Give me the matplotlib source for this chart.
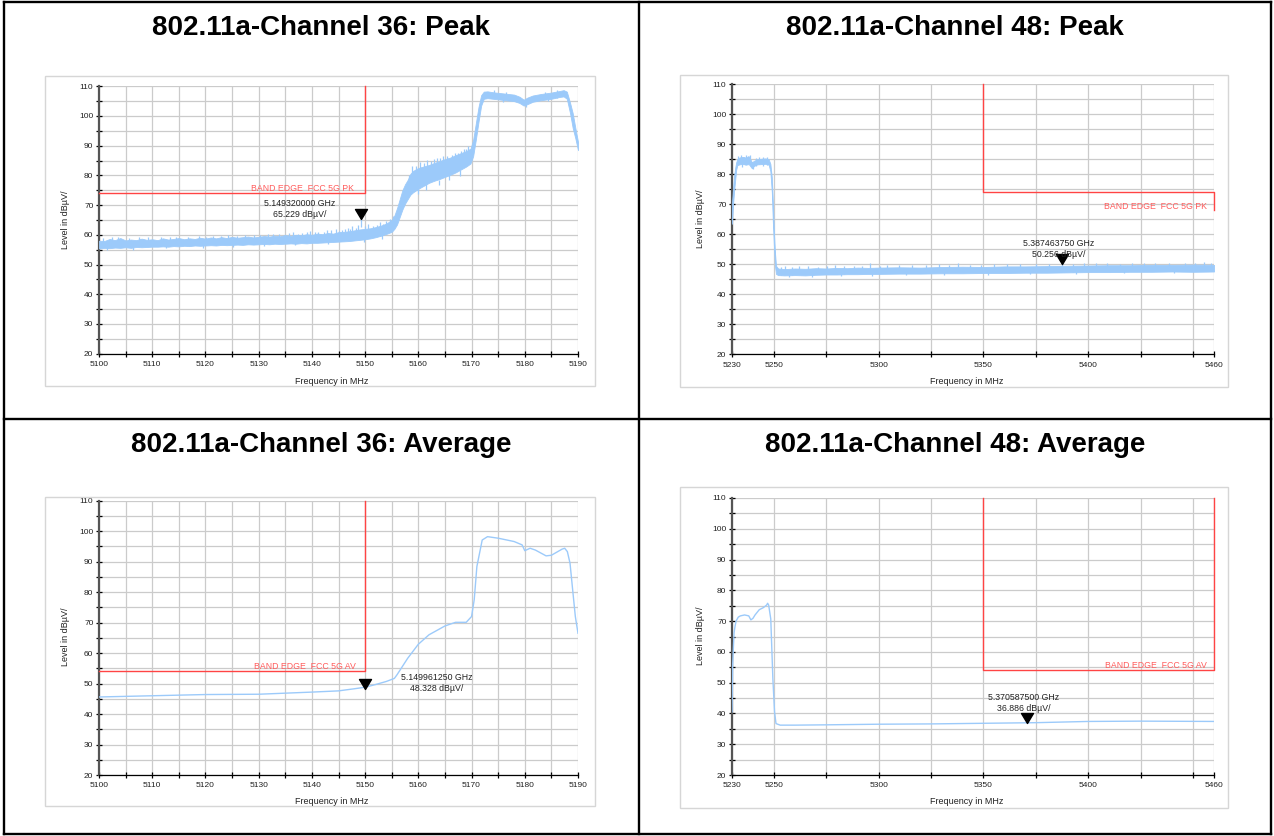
import matplotlib
matplotlib.use("Agg")
import matplotlib.pyplot as plt
from matplotlib.patches import Rectangle
from matplotlib.lines import Line2D
from matplotlib.path import Path

plt.rcParams['font.family'] = ['Liberation Sans', 'DejaVu Sans']

# ---------------- data ----------------
titles = ["802.11a-Channel 36: Peak", "802.11a-Channel 48: Peak",
          "802.11a-Channel 36: Average", "802.11a-Channel 48: Average"]

# Channel 36 Peak: envelope of the noisy trace (MHz, lower dBuV, upper dBuV)
ch36_pk_f = [5100, 5101, 5102, 5103, 5104, 5105, 5106, 5107, 5108, 5109, 5110, 5111, 5112, 5113,
             5114, 5115, 5116, 5117, 5118, 5119, 5120, 5121, 5122, 5123, 5124, 5125, 5126, 5127,
             5128, 5129, 5130, 5131, 5132, 5133, 5134, 5135, 5136, 5137, 5138, 5139, 5140, 5141,
             5142, 5143, 5144, 5145, 5146, 5147, 5148, 5149, 5150, 5151, 5152, 5153, 5154, 5155,
             5155.5, 5156, 5156.5, 5157, 5157.5, 5158, 5158.5, 5159, 5160, 5161, 5162, 5163, 5164,
             5165, 5166, 5167, 5168, 5169, 5169.8, 5170.3, 5170.8, 5171.3, 5171.8, 5172.3, 5173,
             5174, 5175, 5176, 5177, 5178, 5179, 5179.8, 5180.5, 5181.5, 5183, 5185, 5186.5, 5187.3,
             5187.9, 5188.5, 5189, 5189.5, 5190]
ch36_pk_lo = [55.4, 55.6, 55.5, 55.7, 55.6, 55.8, 55.6, 55.9, 55.8, 55.9, 56.0, 56.0, 56.1, 56.0,
              56.2, 56.1, 56.3, 56.2, 56.4, 56.3, 56.4, 56.5, 56.4, 56.6, 56.5, 56.6, 56.7, 56.6,
              56.8, 56.7, 56.8, 56.9, 56.8, 57.0, 56.9, 57.0, 57.1, 57.0, 57.2, 57.1, 57.3, 57.3,
              57.4, 57.5, 57.6, 57.7, 57.8, 57.9, 58.1, 58.3, 58.5, 58.8, 59.2, 59.7, 60.3, 61.0,
              62.0, 63.5, 66.0, 68.5, 70.5, 72.0, 73.5, 74.3, 75.5, 76.5, 77.5, 78.2, 78.8,
              79.5, 80.2, 81.0, 82.0, 83.0, 84.0, 86.5, 92.0, 98.0, 103.5, 105.8, 106.0,
              105.8, 105.6, 105.4, 105.2, 105.0, 104.4, 103.5, 104.0, 104.8, 105.3, 105.8, 106.4, 106.6,
              105.8, 101.0, 96.0, 92.5, 88.5]
ch36_pk_hi = [58.0, 57.9, 58.6, 58.2, 58.9, 58.1, 58.4, 58.2, 58.7, 58.3, 58.5, 58.2, 58.8, 58.4,
              58.6, 58.9, 58.5, 58.8, 58.6, 59.0, 58.7, 59.1, 58.8, 59.2, 58.9, 59.3, 59.0, 59.2,
              59.4, 59.1, 59.3, 59.6, 59.4, 59.7, 59.5, 59.9, 59.6, 60.0, 59.8, 60.2, 60.0, 60.4,
              60.2, 60.6, 60.4, 60.9, 61.0, 61.2, 61.5, 61.8, 62.0, 62.2, 62.6, 63.1, 63.8, 65.0,
              66.5, 69.0, 72.0, 75.0, 77.0, 78.5, 80.5, 81.5, 82.5, 83.0, 83.5, 84.2, 84.8,
              85.5, 86.0, 86.8, 87.5, 88.2, 89.0, 92.0, 97.5, 103.0, 107.0, 108.2, 108.3,
              108.0, 107.8, 107.6, 107.4, 107.2, 106.5, 105.5, 106.2, 106.9, 107.4, 107.9, 108.4, 108.7,
              108.2, 104.5, 101.0, 96.0, 91.3]
# upward noise spikes (MHz, top dBuV)
ch36_pk_spike_f = [5100.8, 5102.4, 5103.5, 5105.6, 5107.5, 5109.2, 5111.6, 5113.3, 5114.5, 5116.7,
                   5118.8, 5120.1, 5121.4, 5122.9, 5124.3, 5126.0, 5127.5, 5129.1, 5130.2, 5131.7,
                   5132.6, 5133.9, 5134.8, 5135.7, 5136.5, 5137.4, 5138.1, 5139.0, 5139.6, 5140.5,
                   5141.1, 5142.2, 5142.9, 5143.6, 5144.5, 5145.1, 5145.6, 5146.2, 5146.7, 5147.2,
                   5147.6, 5148.2, 5148.7, 5149.3, 5150.0, 5150.6, 5151.5, 5152.3, 5152.8, 5153.4,
                   5153.9, 5154.6, 5155.3, 5157.8, 5158.3, 5158.8, 5159.5, 5160.4, 5161.1, 5161.7,
                   5162.4, 5163.0, 5163.5, 5164.1, 5164.6, 5165.4, 5166.3, 5166.9, 5167.4, 5168.0,
                   5168.6, 5169.0, 5169.4, 5174.2, 5176.5, 5183.8, 5186.0]
ch36_pk_spike_v = [58.9, 59.2, 59.3, 59.0, 59.1, 59.2, 59.2, 59.3, 59.4, 59.3,
                   59.6, 59.4, 59.5, 59.7, 59.8, 59.6, 60.0, 59.9, 59.9, 60.2,
                   60.3, 60.4, 60.1, 60.5, 60.8, 60.4, 60.5, 60.9, 61.2, 60.8,
                   60.9, 61.0, 61.7, 61.5, 61.8, 61.2, 61.6, 62.0, 62.3, 62.1,
                   62.8, 62.4, 63.4, 65.2, 62.9, 63.6, 63.0, 63.4, 64.2, 63.8,
                   64.6, 65.2, 66.4, 77.2, 80.0, 83.0, 83.2, 84.5, 84.2, 85.2,
                   85.0, 85.6, 85.8, 85.9, 86.6, 86.4, 87.0, 87.4, 87.6, 88.2,
                   88.8, 88.9, 89.8, 108.6, 108.2, 108.1, 108.6]
# downward noise dips (MHz, bottom dBuV)
ch36_pk_dip_f = [5101.5, 5106.4, 5112.6, 5119.5, 5125.2, 5131.0, 5136.9, 5143.1, 5149.7, 5153.2,
                 5159.9, 5161.5, 5163.8, 5165.7, 5167.8, 5176.0, 5180.2, 5184.4]
ch36_pk_dip_v = [54.8, 55.0, 55.4, 55.7, 55.9, 56.2, 56.5, 56.9, 57.6, 58.6,
                 73.8, 75.0, 76.6, 78.4, 79.9, 104.6, 103.0, 105.0]
ch36_pk_marker = (5149.320, 65.229)

# Channel 48 Peak
ch48_pk_f = [5230, 5230.5, 5231, 5231.5, 5232, 5232.5, 5233.5, 5235, 5236.5, 5238, 5239.5, 5240.5,
             5242, 5244, 5246, 5247.5, 5248.3, 5249, 5249.5, 5250, 5250.5, 5251, 5252, 5255, 5260,
             5265, 5270, 5275, 5280, 5285, 5290, 5295, 5300, 5310, 5320, 5330, 5340, 5350, 5360,
             5370, 5380, 5390, 5400, 5410, 5420, 5430, 5440, 5450, 5460]
ch48_pk_lo = [63.5, 70.0, 74.5, 78.0, 81.5, 83.0, 83.3, 83.5, 83.2, 83.4, 82.0, 82.8,
              83.3, 83.4, 83.5, 83.2, 81.0, 74.0, 64.0, 56.0, 49.5, 46.8, 46.4, 46.3, 46.4,
              46.3, 46.5, 46.6, 46.6, 46.7, 46.7, 46.8, 46.8, 46.9, 46.9, 47.0, 47.0, 47.1, 47.1,
              47.2, 47.2, 47.3, 47.4, 47.4, 47.5, 47.5, 47.6, 47.5, 47.6]
ch48_pk_hi = [70.5, 75.5, 79.5, 82.0, 84.0, 85.0, 85.6, 85.8, 85.6, 86.0, 84.0, 84.5,
              85.0, 85.2, 85.3, 85.0, 83.5, 79.0, 71.0, 61.0, 54.0, 49.5, 48.6, 48.4, 48.6,
              48.5, 48.7, 48.6, 48.8, 48.7, 48.9, 48.8, 48.9, 49.0, 48.9, 49.1, 49.2, 49.1, 49.3,
              49.3, 49.4, 49.5, 49.6, 49.7, 49.7, 49.8, 49.8, 49.9, 49.8]
ch48_pk_spike_f = [5233.1, 5234.2, 5235.6, 5236.8, 5237.7, 5238.6, 5241.3, 5243.0, 5245.0, 5246.8,
                   5253.2, 5255.5, 5258.4, 5262, 5266.5, 5271, 5275.3, 5279, 5283.6, 5288, 5292.2,
                   5296, 5300.4, 5304, 5309.8, 5316, 5322.5, 5329, 5333.4, 5338, 5343.7, 5349, 5355.1,
                   5361, 5367.6, 5375, 5381.2, 5387.5, 5392.8, 5398, 5403.5, 5409, 5415.2, 5421,
                   5426.7, 5432, 5438.3, 5446, 5450.8, 5455, 5458.6]
ch48_pk_spike_v = [86.0, 86.3, 85.9, 86.4, 86.1, 86.5, 85.4, 85.8, 85.9, 85.7,
                   49.1, 49.3, 49.0, 49.5, 49.3, 49.2, 49.4, 49.8, 49.4, 49.6, 49.5,
                   50.3, 49.6, 49.7, 49.8, 49.9, 49.7, 50.0, 49.9, 50.3, 49.8, 49.9, 50.0,
                   50.2, 50.0, 50.1, 50.2, 50.3, 50.1, 50.6, 50.3, 50.4, 50.2, 50.5,
                   50.3, 50.6, 50.4, 50.5, 50.3, 50.7, 50.4]
ch48_pk_dip_f = [5234.8, 5239.8, 5244.6, 5257, 5268, 5282, 5297, 5313, 5331, 5352, 5372, 5394,
                 5417, 5441]
ch48_pk_dip_v = [82.4, 81.6, 82.6, 45.9, 45.9, 46.1, 46.2, 46.4, 46.5, 46.6, 46.7, 46.9,
                 47.0, 47.1]
ch48_pk_marker = (5387.46375, 50.256)

# Channel 36 Average
ch36_av_f = [5100, 5110, 5120, 5130, 5140, 5145, 5148, 5150, 5152, 5154, 5155.5, 5156, 5157, 5158,
             5160, 5162, 5165, 5167, 5169, 5170, 5170.5, 5171, 5172, 5173, 5175, 5178, 5179.5,
             5180, 5181, 5182, 5184, 5185, 5187, 5187.5, 5188, 5188.5, 5189, 5189.5, 5190]
ch36_av_v = [45.6, 46.0, 46.4, 46.5, 47.2, 47.6, 48.3, 48.8, 49.7, 50.7, 51.7, 52.9, 55.6, 58.3,
             62.9, 66.0, 68.9, 70.1, 70.1, 72.0, 77.5, 88.4, 97.1, 98.2, 97.7, 96.6, 95.5,
             93.6, 94.4, 93.8, 91.9, 92.1, 94.1, 94.4, 93.3, 89.5, 80.7, 72.0, 66.5]
ch36_av_marker = (5149.96125, 48.328)

# Channel 48 Average
ch48_av_f = [5230, 5230.3, 5230.7, 5231, 5231.5, 5232, 5233, 5234, 5236, 5238, 5239, 5240, 5241,
             5243, 5245, 5246.5, 5247, 5247.5, 5248.5, 5249.5, 5250.3, 5251, 5253, 5260, 5275,
             5300, 5325, 5350, 5375, 5400, 5425, 5460]
ch48_av_v = [40.5, 55.6, 62.0, 66.3, 68.5, 70.1, 71.3, 71.7, 72.0, 71.7, 70.4, 70.9, 72.0,
             73.7, 74.4, 75.2, 75.8, 75.2, 70.7, 51.3, 40.5, 36.7, 36.2, 36.2, 36.3,
             36.5, 36.6, 36.8, 37.0, 37.4, 37.5, 37.4]
ch48_av_marker = (5370.5875, 36.886)

marker_texts = ["5.149320000 GHz\n65.229 dBµV/", "5.387463750 GHz\n50.256 dBµV/",
                "5.149961250 GHz\n48.328 dBµV/", "5.370587500 GHz\n36.886 dBµV/"]

# limit lines (freq, level)
lim_ch36_pk = ([5100, 5150, 5150], [74, 74, 110])
lim_ch48_pk = ([5350, 5350, 5460, 5460], [110, 74, 74, 68.2])
lim_ch36_av = ([5100, 5150, 5150], [54, 54, 110])
lim_ch48_av = ([5350, 5350, 5460, 5460], [110, 54, 54, 110])
lim_labels = ["BAND EDGE  FCC 5G PK", "BAND EDGE  FCC 5G PK",
              "BAND EDGE  FCC 5G AV", "BAND EDGE  FCC 5G AV"]

ch36_xticks = list(range(5100, 5191, 10))
ch36_xminor = list(range(5105, 5190, 10))
ch48_xticks = [5230, 5250, 5300, 5350, 5400, 5460]
ch48_xminor = [5275, 5325, 5375, 5425, 5450]
yticks = list(range(20, 111, 10))
yminor = list(range(25, 110, 10))

# ---------------- figure ----------------
W, H = 1274, 836
fig = plt.figure(figsize=(W / 100, H / 100), dpi=100)
fig.patch.set_facecolor('white')

def fx(px):
    return px / W

def fy(py):
    return 1 - py / H

TRACE = '#9ccafa'
RED = '#ff4444'
RED_TXT = '#ff5c5c'
GRID = '#cbcbcb'

# table lines
for (x0, y0, x1, y1) in [(4, 2, 1271, 2), (4, 834, 1271, 834), (4, 2, 4, 834),
                         (1271, 2, 1271, 834), (639, 2, 639, 834), (4, 419, 1271, 419)]:
    fig.add_artist(Line2D([fx(x0), fx(x1)], [fy(y0), fy(y1)], color='black', lw=1.7,
                          solid_capstyle='projecting'))

# chart frames
for (x0, y0, x1, y1) in [(45, 76, 595, 386), (680, 75, 1228, 387),
                         (45, 497, 595, 806), (680, 487, 1228, 808)]:
    fig.add_artist(Rectangle((fx(x0), fy(y1)), fx(x1 - x0), (y1 - y0) / H, fill=False,
                             edgecolor='#d6d6d6', lw=1.0))

# titles
for (cx, cy), t in zip([(321.5, 25), (955, 25), (321.5, 442), (955, 442)], titles):
    fig.text(fx(cx), fy(cy), t, ha='center', va='center_baseline', fontsize=20,
             fontweight='bold', color='black')

axes_px = [(99, 578, 86.3, 353.6), (732, 1214, 84.3, 354.3),
           (99, 578, 500.7, 775), (732, 1214, 498, 775)]
ylabel_pos = [(66, 220), (700, 219), (66, 637), (700, 636)]
xlabel_pos = [(331.5, 381), (966.7, 382), (331.5, 801), (967, 802)]

tri = Path([(0, 0), (-0.6, 1.0), (0.6, 1.0), (0, 0)],
           [Path.MOVETO, Path.LINETO, Path.LINETO, Path.CLOSEPOLY])

def setup_axes(i, xlim, xt, xm):
    l, r, t, b = axes_px[i]
    ax = fig.add_axes([fx(l), fy(b), (r - l) / W, (b - t) / H])
    ax.set_xlim(*xlim)
    ax.set_ylim(20, 110)
    ax.set_xticks(xt)
    ax.set_xticks(xm, minor=True)
    ax.set_yticks(yticks)
    ax.set_yticks(yminor, minor=True)
    ax.grid(True, which='both', color=GRID, lw=0.9, zorder=0)
    ax.set_axisbelow(True)
    for s in ['top', 'right']:
        ax.spines[s].set_visible(False)
    ax.spines['left'].set_color('#555555')
    ax.spines['left'].set_linewidth(1.6)
    ax.spines['bottom'].set_color('black')
    ax.spines['bottom'].set_linewidth(0.9)
    ax.tick_params(which='both', direction='inout', length=4, width=0.9, color='black',
                   labelsize=6, labelcolor='#222222')
    ax.tick_params(axis='x', pad=3.3)
    ax.tick_params(axis='y', pad=2.0)
    lx, ly = ylabel_pos[i]
    fig.text(fx(lx), fy(ly), "Level in dBµV/", rotation=90, ha='center', va='center',
             fontsize=6.5, color='#222222')
    xx, xy = xlabel_pos[i]
    fig.text(fx(xx), fy(xy), "Frequency in MHz", ha='center', va='center',
             fontsize=6.5, color='#222222')
    return ax

def marker(ax, pt, txt, dx, dy):
    ax.plot([pt[0]], [pt[1]], marker=tri, markersize=14.4, color='black', zorder=6,
            linestyle='none', clip_on=False)
    ax.annotate(txt, xy=pt, xytext=(dx, -dy), textcoords='offset pixels', ha='center',
                va='center', multialignment='center', fontsize=6.3, color='#222222',
                linespacing=1.25, zorder=7)

def limit(ax, lim, label, anchor, dy, va):
    ax.plot(lim[0], lim[1], color=RED, lw=1.0, zorder=4, clip_on=False)
    ax.annotate(label, xy=anchor, xytext=(0, -dy), textcoords='offset pixels', ha='right',
                va=va, fontsize=6.3, color=RED_TXT, zorder=5)

def noisy(ax, f, lo, hi, sf, sv, df, dv):
    ax.fill_between(f, lo, hi, color=TRACE, lw=0.6, edgecolor=TRACE, zorder=3)
    ax.vlines(sf, [v - 2.5 for v in sv], sv, color=TRACE, lw=0.9, zorder=3)
    ax.vlines(df, dv, [v + 2.0 for v in dv], color=TRACE, lw=0.9, zorder=3)

# --- Channel 36 Peak
ax = setup_axes(0, (5100, 5190), ch36_xticks, ch36_xminor)
noisy(ax, ch36_pk_f, ch36_pk_lo, ch36_pk_hi, ch36_pk_spike_f, ch36_pk_spike_v,
      ch36_pk_dip_f, ch36_pk_dip_v)
limit(ax, lim_ch36_pk, lim_labels[0], (5148, 74), 0, 'bottom')
marker(ax, ch36_pk_marker, marker_texts[0], -61.5, -10.6)

# --- Channel 48 Peak
ax = setup_axes(1, (5230, 5460), ch48_xticks, ch48_xminor)
noisy(ax, ch48_pk_f, ch48_pk_lo, ch48_pk_hi, ch48_pk_spike_f, ch48_pk_spike_v,
      ch48_pk_dip_f, ch48_pk_dip_v)
limit(ax, lim_ch48_pk, lim_labels[1], (5456.5, 74), 14, 'center')
marker(ax, ch48_pk_marker, marker_texts[1], -3.7, -14.7)

# --- Channel 36 Average
ax = setup_axes(2, (5100, 5190), ch36_xticks, ch36_xminor)
ax.plot(ch36_av_f, ch36_av_v, color=TRACE, lw=1.0, zorder=3)
limit(ax, lim_ch36_av, lim_labels[2], (5148.2, 54), 0, 'bottom')
marker(ax, ch36_av_marker, marker_texts[2], 71.6, -5.6)

# --- Channel 48 Average
ax = setup_axes(3, (5230, 5460), ch48_xticks, ch48_xminor)
ax.plot(ch48_av_f, ch48_av_v, color=TRACE, lw=1.0, zorder=3)
limit(ax, lim_ch48_av, lim_labels[3], (5456.5, 54), 0, 'bottom')
marker(ax, ch48_av_marker, marker_texts[3], -3.2, -20)

fig.savefig('out.png', dpi=100)
